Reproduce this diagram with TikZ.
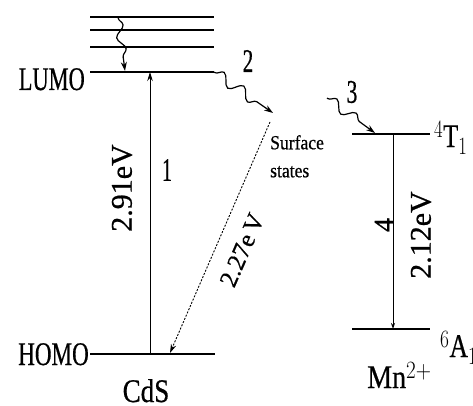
\documentclass[tikz,border=0pt]{standalone}
\usepackage{fontspec}
\setmainfont{Liberation Serif}[FakeBold=0.6]
\usetikzlibrary{arrows.meta,decorations.pathmorphing}
\newcommand\cnd[2]{\scalebox{#1}[1]{#2}}
\begin{document}
\begin{tikzpicture}[x=1pt,y=-1pt,
  level/.style={line width=2pt},
  thinlevel/.style={line width=1.4pt},
  tip/.style={-{Stealth[length=9pt,width=5.5pt]}},
  wave/.style={line width=1.2pt, decorate,
    decoration={snake, amplitude=#1, segment length=24pt, pre length=1pt, post length=9pt},
    -{Stealth[length=9pt,width=6pt]}},
  big/.style={font=\fontsize{33}{33}\selectfont, inner sep=0pt},
  rot/.style={font=\fontsize{30}{30}\selectfont, inner sep=0pt},
  small/.style={font=\fontsize{20}{28}\selectfont, inner sep=0pt}
]
\useasboundingbox (0,0) rectangle (473,406);

% CdS levels
\coordinate (t1a) at (90,17);  \coordinate (t1b) at (214,17);
\coordinate (t2a) at (90,30);  \coordinate (t2b) at (214,30);
\coordinate (t3a) at (90,47);  \coordinate (t3b) at (214,47);
\coordinate (La) at (90,72);   \coordinate (Lb) at (214,72);
\coordinate (Ha) at (90,354);  \coordinate (Hb) at (215,354);
\draw[thinlevel] (t1a) -- (t1b);
\draw[thinlevel] (t2a) -- (t2b);
\draw[thinlevel] (t3a) -- (t3b);
\draw[level] (La) -- (Lb);
\draw[level] (Ha) -- (Hb);

% Mn levels
\coordinate (Ta) at (352,134); \coordinate (Tb) at (430,134);
\coordinate (Aa) at (352,329); \coordinate (Ab) at (430,329);
\draw[level] (Ta) -- (Tb);
\draw[level] (Aa) -- (Ab);

% labels
\node[big, anchor=base east] (lumo) at (85,90) {\cnd{0.68}{LUMO}};
\node[big, anchor=base east] (homo) at (89,365) {\cnd{0.7}{HOMO}};
\node[big, anchor=base] (cds) at (146,402) {\cnd{0.82}{CdS}};
\node[big, anchor=base west] (mn) at (367,388) {\cnd{0.85}{Mn$^{2+}$}};
\node[big, anchor=base west] (t1) at (434,147) {\cnd{0.75}{$^{4}$T$_{1}$}};
\node[big, anchor=base west] (a1) at (440,357) {\cnd{0.78}{$^{6}$A$_{1}$}};

% transition 1
\coordinate (p1s) at (150,354); \coordinate (p1e) at (150,72);
\draw[line width=0.9pt, tip] (p1s) -- (p1e);
\node[rot, rotate=90] (e291) at (122,188) {2.91eV};
\node[big] (n1) at (167,170) {\cnd{0.6}{1}};

% relaxation in CdS
\coordinate (w1s) at (118,17); \coordinate (w1e) at (125,71);
\draw[wave=4pt] (w1s) -- (w1e);

% transition 2
\coordinate (w2e) at (273,113);
\draw[wave=5.5pt] (Lb) -- (w2e);
\node[big] (n2) at (248,61) {\cnd{0.65}{2}};
\node[small, anchor=north west, align=left] (ss) at (270,135) {\cnd{0.88}{Surface}\\\cnd{0.88}{states}};

% dashed 2.27 eV
\coordinate (d1s) at (270,122); \coordinate (d1e) at (170,353);
\draw[line width=0.9pt, dash pattern=on 2pt off 1.5pt, tip] (d1s) -- (d1e);
\node[font=\fontsize{25}{25}\selectfont, inner sep=0pt, rotate=66.6] (e227) at (242,250) {2.27e\,V};

% transition 3
\coordinate (w3s) at (327,98); \coordinate (w3e) at (375,133);
\draw[wave=5pt] (w3s) -- (w3e);
\node[big] (n3) at (352,92) {\cnd{0.65}{3}};

% transition 4
\coordinate (p4s) at (393,135); \coordinate (p4e) at (393,329);
\draw[line width=0.9pt, -{Stealth[length=6pt,width=4pt]}] (p4s) -- (p4e);
\node[font=\fontsize{28}{28}\selectfont, inner sep=0pt, rotate=90] (n4) at (384,225) {4};
\node[rot, rotate=90] (e212) at (421,235) {2.12eV};
\end{tikzpicture}
\end{document}
